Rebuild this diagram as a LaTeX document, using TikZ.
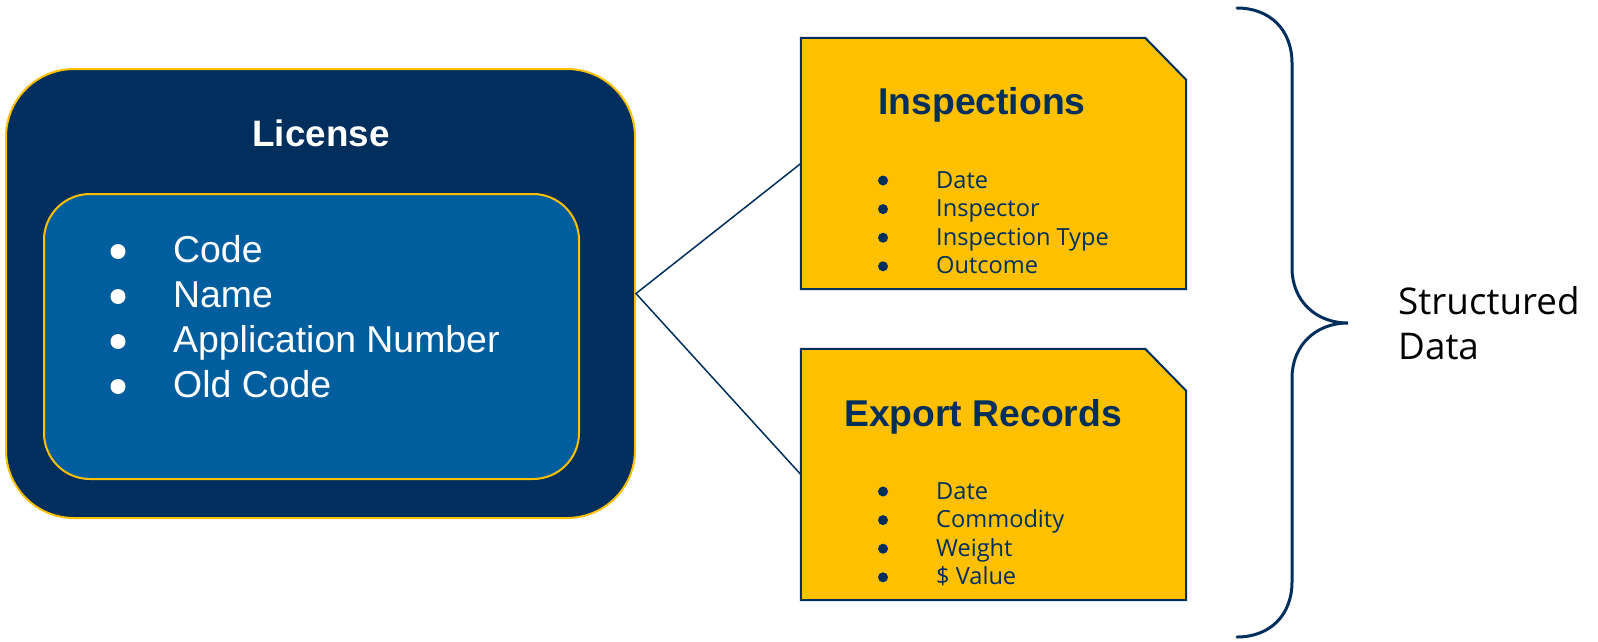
\documentclass[tikz,border=0pt]{standalone}
\usepackage{fontspec}
\setmainfont{Liberation Sans}
\newfontfamily\opensans{Open Sans}
\definecolor{navy}{RGB}{0,46,93}
\definecolor{midblue}{RGB}{0,94,158}
\definecolor{gold}{RGB}{255,192,0}
\tikzset{
  outerbox/.style={draw=gold, fill=navy, line width=2pt, rounded corners=68pt, minimum width=629pt, minimum height=449pt, inner sep=0pt},
  innerbox/.style={draw=gold, fill=midblue, line width=2pt, rounded corners=46pt, minimum width=535pt, minimum height=285pt, inner sep=0pt},
  cardframe/.style={minimum width=385pt, minimum height=251pt, inner sep=0pt},
  cardpath/.style={draw=navy, fill=gold, line width=2pt, line join=miter},
  bigtitle/.style={inner sep=0pt, anchor=base, font=\fontsize{37.3}{43}\selectfont\bfseries},
  licitem/.style={inner sep=0pt, anchor=base west, text=white, font=\fontsize{37.4}{45}\selectfont},
  carditem/.style={inner sep=0pt, anchor=base west, text=navy, font=\opensans\fontsize{23.6}{28}\selectfont},
  bigbullet/.style={circle, fill=white, inner sep=0pt, minimum size=15pt},
  smallbullet/.style={circle, fill=navy, inner sep=0pt, minimum size=10pt},
  link/.style={draw=navy, line width=1.5pt},
  bracestyle/.style={draw=navy, line width=3pt, line cap=round},
  sidetext/.style={inner sep=0pt, anchor=base west, text=black, font=\opensans\fontsize{36.8}{45}\selectfont}
}
\begin{document}
\begin{tikzpicture}[x=1pt,y=-1pt]
\useasboundingbox (0,0) rectangle (1598,641);
% License box
\node[outerbox] (lic) at (320.5,293.5) {};
\node[bigtitle, text=white, font=\fontsize{36.8}{43}\selectfont\bfseries] (lictitle) at (321,146) {License};
\node[innerbox] (licinner) at (311.5,336.5) {};
\foreach \t [count=\i] in {Code,Name,Application Number,Old Code} {
  \node[bigbullet] (licbul\i) at (118,{262+45*(\i-1)-10.5}) {};
  \node[licitem] (lictext\i) at (173,{262+45*(\i-1)}) {\t};
}
% Inspections card
\node[cardframe] (insp) at (993.5,163.5) {};
\path[cardpath] (insp.south west) -- (insp.north west) -- ([xshift=-41pt]insp.north east) -- ([yshift=-42pt]insp.north east) -- (insp.south east) -- cycle;
\node[bigtitle, text=navy] (insptitle) at (982,114) {Inspections};
\foreach \t [count=\i] in {Date,Inspector,Inspection Type,Outcome} {
  \node[smallbullet] (inspbul\i) at (883,{188+28.6*(\i-1)-7.5}) {};
  \node[carditem] (insptext\i) at (936,{188+28.6*(\i-1)}) {\t};
}
% Export Records card
\node[cardframe] (exp) at (993.5,474.5) {};
\path[cardpath] (exp.south west) -- (exp.north west) -- ([xshift=-41pt]exp.north east) -- ([yshift=-42pt]exp.north east) -- (exp.south east) -- cycle;
\node[bigtitle, text=navy] (exptitle) at (983,426) {Export Records};
\foreach \t [count=\i] in {Date,Commodity,Weight,\$ Value} {
  \node[smallbullet] (expbul\i) at (883,{499+28.6*(\i-1)-7.5}) {};
  \node[carditem] (exptext\i) at (936,{499+28.6*(\i-1)}) {\t};
}
% connectors
\draw[link] (insp.west) -- (lic.east) -- (exp.west);
% brace
\coordinate (bracetip) at (1348,323);
\draw[bracestyle] (1237,8) .. controls (1270,8) and (1292,30) .. (1292,63) -- (1292,268) .. controls (1292,300) and (1315,323) .. (bracetip) .. controls (1315,323) and (1292,346) .. (1292,378) -- (1292,582) .. controls (1292,615) and (1270,637) .. (1237,637);
\node[sidetext] (sd1) at (1398,314) {Structured};
\node[sidetext] (sd2) at (1398,359) {Data};
\end{tikzpicture}
\end{document}
